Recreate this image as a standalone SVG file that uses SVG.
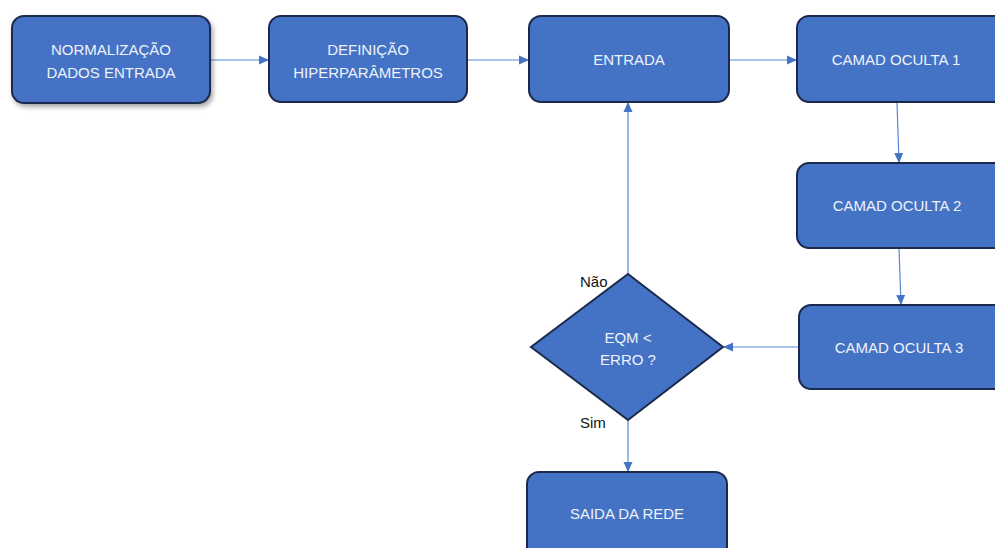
<svg xmlns="http://www.w3.org/2000/svg" width="995" height="548" viewBox="0 0 995 548">
<style>
.box{fill:#4472C4;stroke:#1B2A4C;stroke-width:2}
.t{font-family:"Liberation Sans",Arial,sans-serif;font-size:15px;fill:#EEF2FA;text-anchor:middle}
.lbl{font-family:"Liberation Sans",Arial,sans-serif;font-size:15px;fill:#111}
.c{stroke:#5A87D4;stroke-width:1.2;fill:none;marker-end:url(#ah)}
</style>
<defs>
<marker id="ah" markerWidth="10" markerHeight="10" refX="9" refY="5" orient="auto" markerUnits="userSpaceOnUse">
<path d="M0,0.5 L10,5 L0,9.5 Z" fill="#4472C4"/>
</marker>
<filter id="sh" x="-10%" y="-10%" width="125%" height="130%">
<feDropShadow dx="2" dy="3" stdDeviation="2.5" flood-color="#000" flood-opacity="0.35"/>
</filter>
</defs>
<rect width="995" height="548" fill="#fff"/>
<g id="connectors">
<line class="c" x1="210" y1="60" x2="268" y2="60"/>
<line class="c" x1="467" y1="60" x2="528" y2="60"/>
<line class="c" x1="729" y1="60" x2="796" y2="60"/>
<line class="c" x1="897" y1="103" x2="899" y2="162"/>
<line class="c" x1="899" y1="248" x2="901" y2="304"/>
<line class="c" x1="799" y1="347" x2="724" y2="347"/>
<line class="c" x1="628" y1="274" x2="628" y2="103"/>
<line class="c" x1="628" y1="420" x2="628" y2="471"/>
</g>
<g id="n1">
<rect class="box" x="12" y="16" width="198" height="87" rx="12" filter="url(#sh)"/>
<text class="t" x="111" y="55">NORMALIZAÇÃO</text>
<text class="t" x="111" y="78">DADOS ENTRADA</text>
</g>
<g id="n2">
<rect class="box" x="269" y="16" width="198" height="86" rx="12"/>
<text class="t" x="368" y="55">DEFINIÇÃO</text>
<text class="t" x="368" y="78">HIPERPARÂMETROS</text>
</g>
<g id="n3">
<rect class="box" x="529" y="16" width="200" height="86" rx="12"/>
<text class="t" x="629" y="65">ENTRADA</text>
</g>
<g id="n4">
<rect class="box" x="797" y="16" width="210" height="86" rx="12"/>
<text class="t" x="896" y="65">CAMAD OCULTA 1</text>
</g>
<g id="n5">
<rect class="box" x="797" y="163" width="210" height="85" rx="12"/>
<text class="t" x="897" y="211">CAMAD OCULTA 2</text>
</g>
<g id="n6">
<rect class="box" x="799" y="305" width="210" height="84" rx="12"/>
<text class="t" x="899" y="353">CAMAD OCULTA 3</text>
</g>
<g id="n7">
<polygon class="box" points="628,274 723,347 628,420 531,347"/>
<text class="t" x="628" y="343">EQM &lt;</text>
<text class="t" x="628" y="365">ERRO ?</text>
</g>
<g id="n8">
<rect class="box" x="527" y="472" width="200" height="90" rx="12"/>
<text class="t" x="627" y="519">SAIDA DA REDE</text>
</g>
<text class="lbl" x="580" y="287">Não</text>
<text class="lbl" x="580" y="428">Sim</text>
</svg>
